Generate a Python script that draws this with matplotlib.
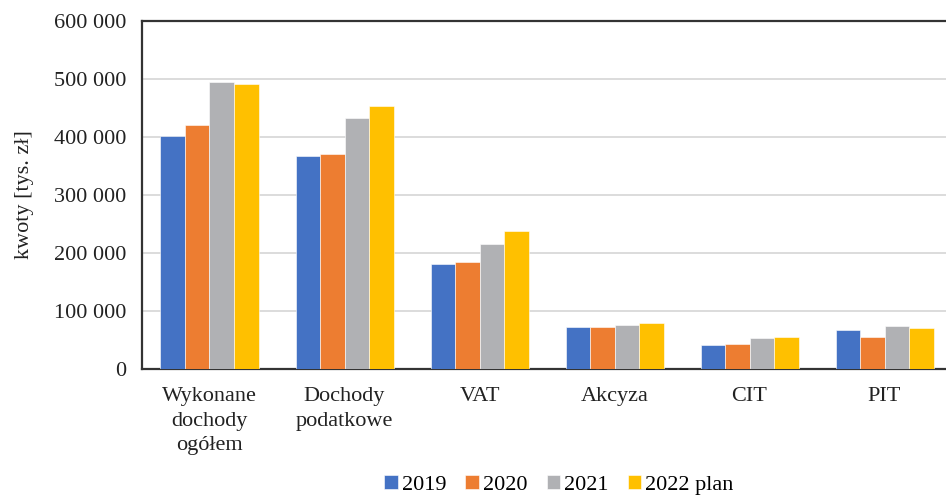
import numpy as np
import matplotlib.pyplot as plt
from matplotlib.ticker import FuncFormatter

categories = ["Wykonane\ndochody\nogółem", "Dochody\npodatkowe", "VAT", "Akcyza", "CIT", "PIT"]
series_names = ["2019", "2020", "2021", "2022 plan"]
v2019 = [400700, 367300, 181000, 72000, 39800, 65700]
v2020 = [419700, 370200, 184400, 71500, 41500, 53600]
v2021 = [494800, 432500, 215600, 76000, 52400, 73700]
v2022 = [491900, 453800, 237000, 78400, 54200, 69200]
colors = ["#4472C4", "#ED7D31", "#B0B1B4", "#FFC000"]

plt.rcParams['font.family'] = ['Liberation Serif', 'DejaVu Serif']
fs = 16

fig = plt.figure(figsize=(9.46, 4.96), dpi=100)
ax = fig.add_axes([0.1501, 0.257, 0.8563, 0.7006])

x = np.arange(len(categories))
w = 0.1815
allv = [v2019, v2020, v2021, v2022]
for i, vals in enumerate(allv):
    ax.bar(x + (i - 1.5) * w, vals, w, color=colors[i], label=series_names[i],
           edgecolor='white', linewidth=0.4, zorder=3)

ax.set_xlim(-0.5, len(categories) - 0.5)
ax.set_ylim(0, 600000)
ax.set_yticks(np.arange(0, 600001, 100000))
ax.yaxis.set_major_formatter(FuncFormatter(lambda v, p: f"{int(v):,}".replace(",", " ")))
ax.grid(axis='y', color='#d9d9d9', linewidth=1.3, zorder=0)
ax.set_xticks(x)
ax.set_xticklabels(categories, fontsize=fs, linespacing=1.4, va='top')
ax.tick_params(axis='y', length=0, pad=11, labelsize=fs, colors='#222222')
ax.tick_params(axis='x', length=0, pad=13.5, colors='#222222')
ax.set_ylabel("kwoty [tys. zł]", fontsize=fs, labelpad=14.5, color='#222222')

for s in ['left', 'top', 'bottom']:
    ax.spines[s].set_color('#333333')
    ax.spines[s].set_linewidth(1.6)
ax.spines['right'].set_visible(False)

leg = ax.legend(loc='center', bbox_to_anchor=(559 / 946, 11 / 496), bbox_transform=fig.transFigure,
                ncol=4, frameon=False, fontsize=fs, handlelength=0.6, handleheight=0.6,
                handletextpad=0.2, columnspacing=0.85, borderpad=0.05)

fig.savefig("out.png", dpi=100)
